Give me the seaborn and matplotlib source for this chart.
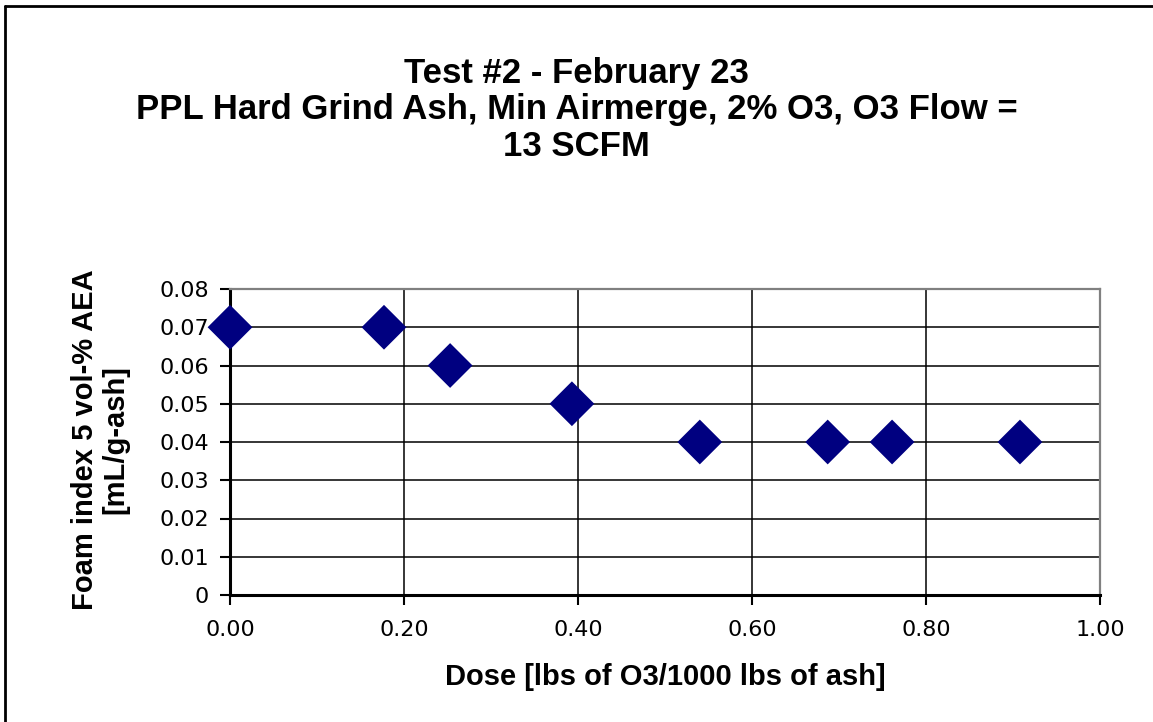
import numpy as np
import pandas as pd
import seaborn as sns
import matplotlib.pyplot as plt
from matplotlib.ticker import FuncFormatter
from matplotlib.lines import Line2D

# data
dose = [0.0, 0.177, 0.253, 0.393, 0.540, 0.687, 0.761, 0.908]
foam_index = [0.07, 0.07, 0.06, 0.05, 0.04, 0.04, 0.04, 0.04]
x_ticks = [0.0, 0.2, 0.4, 0.6, 0.8, 1.0]
y_ticks = [0.0, 0.01, 0.02, 0.03, 0.04, 0.05, 0.06, 0.07, 0.08]

title = "Test #2 - February 23\nPPL Hard Grind Ash, Min Airmerge, 2% O3, O3 Flow =\n13 SCFM"
x_label = "Dose [lbs of O3/1000 lbs of ash]"
y_label = "Foam index 5 vol-% AEA\n[mL/g-ash]"

df = pd.DataFrame({"dose": dose, "foam": foam_index})

sns.set_style("white")
plt.rcParams['font.family'] = ['DejaVu Sans']
plt.rcParams['text.color'] = 'black'

W, H = 1153, 722
fig = plt.figure(figsize=(W / 100, H / 100), dpi=100)
ax = fig.add_axes([230 / W, 1 - 595 / H, 870 / W, 306 / H])

sns.scatterplot(data=df, x="dose", y="foam", marker="D", s=520, color="#000080",
                edgecolor="none", ax=ax, zorder=5, clip_on=False)

ax.set_xlim(0, 1.0)
ax.set_ylim(0, 0.08)
ax.set_xticks(x_ticks)
ax.set_yticks(y_ticks)
ax.xaxis.set_major_formatter(FuncFormatter(lambda v, p: f"{v:.2f}"))
ax.yaxis.set_major_formatter(FuncFormatter(lambda v, p: "0" if v == 0 else f"{v:.2f}"))
ax.grid(True, color="black", linewidth=1.1)
ax.set_axisbelow(True)
ax.tick_params(axis="both", direction="out", length=7, width=1.5, color="black",
               labelsize=16, labelcolor="black")
ax.tick_params(axis="x", pad=11)
ax.tick_params(axis="y", pad=8)
ax.tick_params(bottom=True, left=True)

for side in ["left", "bottom"]:
    ax.spines[side].set_color("black")
    ax.spines[side].set_linewidth(2.2)
for side in ["top", "right"]:
    ax.spines[side].set_color("#808080")
    ax.spines[side].set_linewidth(1.6)
    ax.spines[side].set_visible(True)

ax.set_xlabel("")
ax.set_ylabel("")

bold = dict(family=["Liberation Sans", "DejaVu Sans"], fontweight="bold", color="black")
fig.text(0.5, 1 - 110 / H, title, ha="center", va="center", fontsize=25,
         linespacing=1.13, **bold)
fig.text(665 / W, 1 - 677 / H, x_label, ha="center", va="center", fontsize=21, **bold)
fig.text(100 / W, 1 - 440 / H, y_label, ha="center", va="center", rotation=90,
         fontsize=21, linespacing=1.08, multialignment="center", **bold)

# chart frame (only the left and top edges are visible)
fig.add_artist(Line2D([5 / W, 5 / W], [0, 1 - 6 / H], color="black", lw=2,
                      transform=fig.transFigure))
fig.add_artist(Line2D([5 / W, 1], [1 - 6 / H, 1 - 6 / H], color="black", lw=2,
                      transform=fig.transFigure))

fig.savefig("out.png", dpi=100)
